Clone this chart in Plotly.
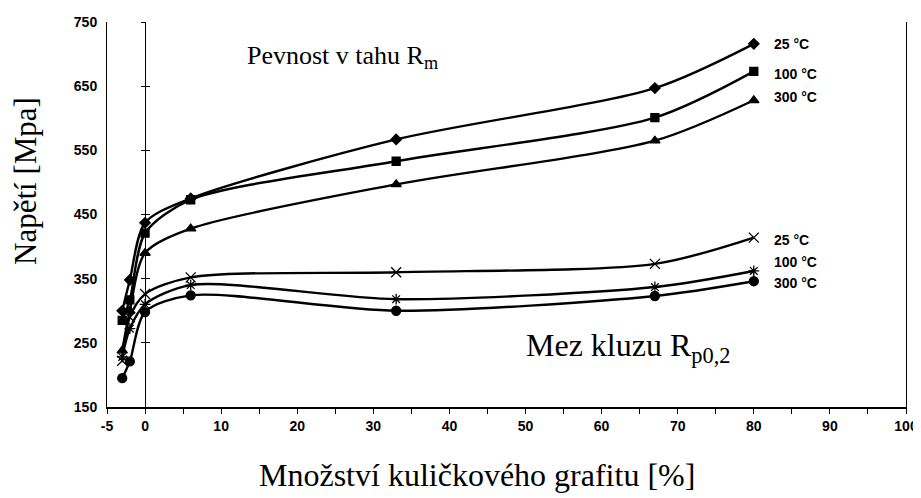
import plotly.graph_objects as go

# x positions (% nodular graphite) shared by all curves
graphite = [-3, -2, 0, 6, 33, 67, 80]

# tensile strength Rm [MPa]
rm_25 = [300, 348, 437, 475, 567, 647, 716]
rm_100 = [285, 317, 421, 473, 533, 601, 673]
rm_300 = [238, 300, 390, 428, 497, 565, 628]

# yield strength Rp0,2 [MPa]
rp_25 = [222, 290, 326, 352, 360, 373, 414]
rp_100 = [228, 272, 310, 340, 318, 337, 362]
rp_300 = [195, 221, 298, 324, 300, 323, 346]

temp_labels = ["25 °C", "100 °C", "300 °C"]
rm_label_y = [716, 669, 633]
rp_label_y = [410, 376, 343]

x_ticks = [-5, 0, 10, 20, 30, 40, 50, 60, 70, 80, 90, 100]
x_tick_text = ["-5", "0", "10", "20", "30", "40", "50", "60", "70", "80", "90", "100"]
y_ticks = [150, 250, 350, 450, 550, 650, 750]

series = [
    (rm_25, "diamond", 8, "black"),
    (rm_100, "square", 8, "black"),
    (rm_300, "triangle-up", 9, "black"),
    (rp_25, "x-thin-open", 10, "#444"),
    (rp_100, "asterisk-open", 9, "#333"),
    (rp_300, "circle", 9, "black"),
]

fig = go.Figure()
for vals, sym, size, col in series:
    fig.add_trace(go.Scatter(
        x=graphite, y=vals, mode="lines+markers",
        line=dict(color="black", width=2.4, shape="spline", smoothing=0.8),
        marker=dict(symbol=sym, size=size, color="black",
                    line=dict(color=col, width=1.3)),
        showlegend=False, hoverinfo="skip",
    ))

# dummy traces so the crossing axis at x=0 is drawn
for ax in ["y2", "y3"]:
    fig.add_trace(go.Scatter(x=[None], y=[None], yaxis=ax, showlegend=False,
                             hoverinfo="skip"))

sans = "Liberation Sans"
serif = "Liberation Serif"
tick_font = dict(family=sans, size=14, color="black", weight="bold")
lab_font = dict(family=sans, size=14, color="black", weight="bold")

ann = []
for lab, yv in zip(temp_labels, rm_label_y):
    ann.append(dict(x=80, y=yv, text=lab, showarrow=False,
                    xanchor="left", xshift=18, font=lab_font))
for lab, yv in zip(temp_labels, rp_label_y):
    ann.append(dict(x=80, y=yv, text=lab, showarrow=False,
                    xanchor="left", xshift=18, font=lab_font))
ann.append(dict(x=26, y=695, text="Pevnost v tahu R<sub>m</sub>", showarrow=False,
                font=dict(family=serif, size=26, color="black")))
ann.append(dict(x=63.5, y=242, text="Mez kluzu R<sub>p0,2</sub>", showarrow=False,
                font=dict(family=serif, size=32, color="black")))
# axis titles
ann.append(dict(xref="paper", yref="paper", x=0.463, y=0, yshift=-68,
                yanchor="middle", text="Množství kuličkového grafitu [%]",
                showarrow=False, font=dict(family=serif, size=32, color="black")))
ann.append(dict(xref="paper", yref="paper", x=0, y=0.587, xshift=-82,
                xanchor="center", yanchor="middle", textangle=-90,
                text="Napětí [Mpa]", showarrow=False,
                font=dict(family=serif, size=31, color="black")))

y0_pos = 5 / 105

fig.update_layout(
    width=921, height=498,
    margin=dict(l=99, r=23, t=14, b=99),
    paper_bgcolor="white", plot_bgcolor="white",
    annotations=ann,
    xaxis=dict(
        range=[-5, 100], tickvals=x_ticks, ticktext=x_tick_text,
        ticks="outside", ticklen=5, tickcolor="black", tickwidth=1,
        minor=dict(dtick=5, tick0=0, ticks="outside", ticklen=5, tickcolor="black"),
        showline=True, linecolor="black", linewidth=2, mirror=False,
        showgrid=False, zeroline=False, tickfont=tick_font, automargin=False,
    ),
    yaxis=dict(
        range=[150, 750], tickvals=y_ticks, ticks="",
        showline=True, linecolor="black", linewidth=1, mirror=True,
        showgrid=False, zeroline=False, tickfont=tick_font, automargin=False,
        ticklabelstandoff=6,
    ),
    yaxis2=dict(
        range=[150, 750], tickvals=y_ticks, overlaying="y", anchor="free",
        position=y0_pos, side="left", ticks="outside", ticklen=4,
        tickcolor="black", showline=True, linecolor="black", linewidth=1,
        showticklabels=False, showgrid=False, zeroline=False, automargin=False,
    ),
    yaxis3=dict(
        range=[150, 750], tickvals=y_ticks, overlaying="y", anchor="free",
        position=y0_pos, side="left", ticks="inside", ticklen=4,
        tickcolor="black", showline=False, automargin=False,
        showticklabels=False, showgrid=False, zeroline=False,
    ),
    xaxis2=dict(overlaying="x", range=[-5, 100], anchor="y", side="bottom",
                tickvals=x_ticks, ticks="inside", ticklen=4, tickcolor="black",
                minor=dict(dtick=5, tick0=0, ticks="inside", ticklen=4, tickcolor="black"),
                showticklabels=False, showgrid=False, zeroline=False,
                showline=False, automargin=False),
)

fig.write_html("out.html")
